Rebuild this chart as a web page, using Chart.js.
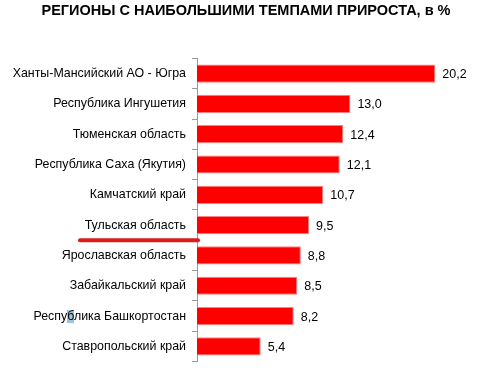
<!DOCTYPE html>
<html>
<head>
<meta charset="utf-8">
<script src="https://cdn.jsdelivr.net/npm/chart.js@4/dist/chart.umd.min.js"></script>
<style>
  html, body { margin: 0; padding: 0; background: #fff; }
  #wrap { width: 504px; height: 375px; }
</style>
</head>
<body>
<div id="wrap"><canvas id="canvas"></canvas></div>
<script>
const regions = [
  'Ханты-Мансийский АО - Югра',
  'Республика Ингушетия',
  'Тюменская область',
  'Республика Саха (Якутия)',
  'Камчатский край',
  'Тульская область',
  'Ярославская область',
  'Забайкальский край',
  'Республика Башкортостан',
  'Ставропольский край'
];
const growth = [20.2, 13.0, 12.4, 12.1, 10.7, 9.5, 8.8, 8.5, 8.2, 5.4];
const markedRegion = 'Тульская область';

// value labels at bar ends, comma decimals
const valueLabels = {
  id: 'valueLabels',
  afterDatasetsDraw(chart) {
    const ctx = chart.ctx;
    const meta = chart.getDatasetMeta(0);
    ctx.save();
    ctx.font = '12.5px "Liberation Sans", Arial, sans-serif';
    ctx.fillStyle = '#000';
    ctx.textBaseline = 'middle';
    ctx.textAlign = 'left';
    meta.data.forEach((bar, i) => {
      ctx.fillText(growth[i].toFixed(1).replace('.', ','), bar.x + 7, bar.y + 1);
    });
    ctx.restore();
  }
};

// hand-drawn red underline under the highlighted region
const underline = {
  id: 'underline',
  afterDraw(chart) {
    const y = chart.scales.y;
    const i = regions.indexOf(markedRegion);
    const py = (y.getPixelForValue(i) + y.getPixelForValue(i + 1)) / 2;
    const ctx = chart.ctx;
    ctx.save();
    ctx.strokeStyle = '#dc1c1c';
    ctx.lineWidth = 4;
    ctx.lineCap = 'round';
    ctx.beginPath();
    ctx.moveTo(80, py);
    ctx.lineTo(chart.chartArea.left + 1, py);
    ctx.stroke();
    ctx.restore();
  }
};

// small selection highlight left over in the source image
const selection = {
  id: 'selection',
  beforeDraw(chart) {
    const y = chart.scales.y;
    const py = y.getPixelForValue(8);
    const ctx = chart.ctx;
    ctx.save();
    ctx.fillStyle = '#9fc3de';
    ctx.fillRect(67, py - 6, 7, 13);
    ctx.restore();
  }
};

new Chart(document.getElementById('canvas').getContext('2d'), {
  type: 'bar',
  data: {
    labels: regions,
    datasets: [{
      data: growth,
      backgroundColor: '#ff0000',
      borderColor: '#ff8080',
      borderWidth: 1,
      barPercentage: 0.6,
      categoryPercentage: 1
    }]
  },
  plugins: [selection, valueLabels, underline],
  options: {
    indexAxis: 'y',
    responsive: true,
    maintainAspectRatio: false,
    animation: false,
    layout: { padding: { left: 0, right: 12, top: 0, bottom: 13 } },
    plugins: {
      legend: { display: false },
      tooltip: { enabled: false },
      title: {
        display: true,
        text: 'РЕГИОНЫ С НАИБОЛЬШИМИ ТЕМПАМИ ПРИРОСТА, в %',
        color: '#000',
        font: { family: '"Liberation Sans", Arial, sans-serif', size: 14.5, weight: 'bold' },
        padding: { top: 2, bottom: 39 }
      }
    },
    scales: {
      x: {
        display: false,
        min: 0,
        max: 25
      },
      y: {
        afterFit(scale) { scale.width = 197; },
        border: { color: '#999', width: 1 },
        grid: {
          drawOnChartArea: false,
          color: '#999',
          tickLength: 5,
          offset: true
        },
        ticks: {
          color: '#000',
          padding: 6,
          font: { family: '"Liberation Sans", Arial, sans-serif', size: 12.4 }
        }
      }
    }
  }
});
</script>
</body>
</html>
